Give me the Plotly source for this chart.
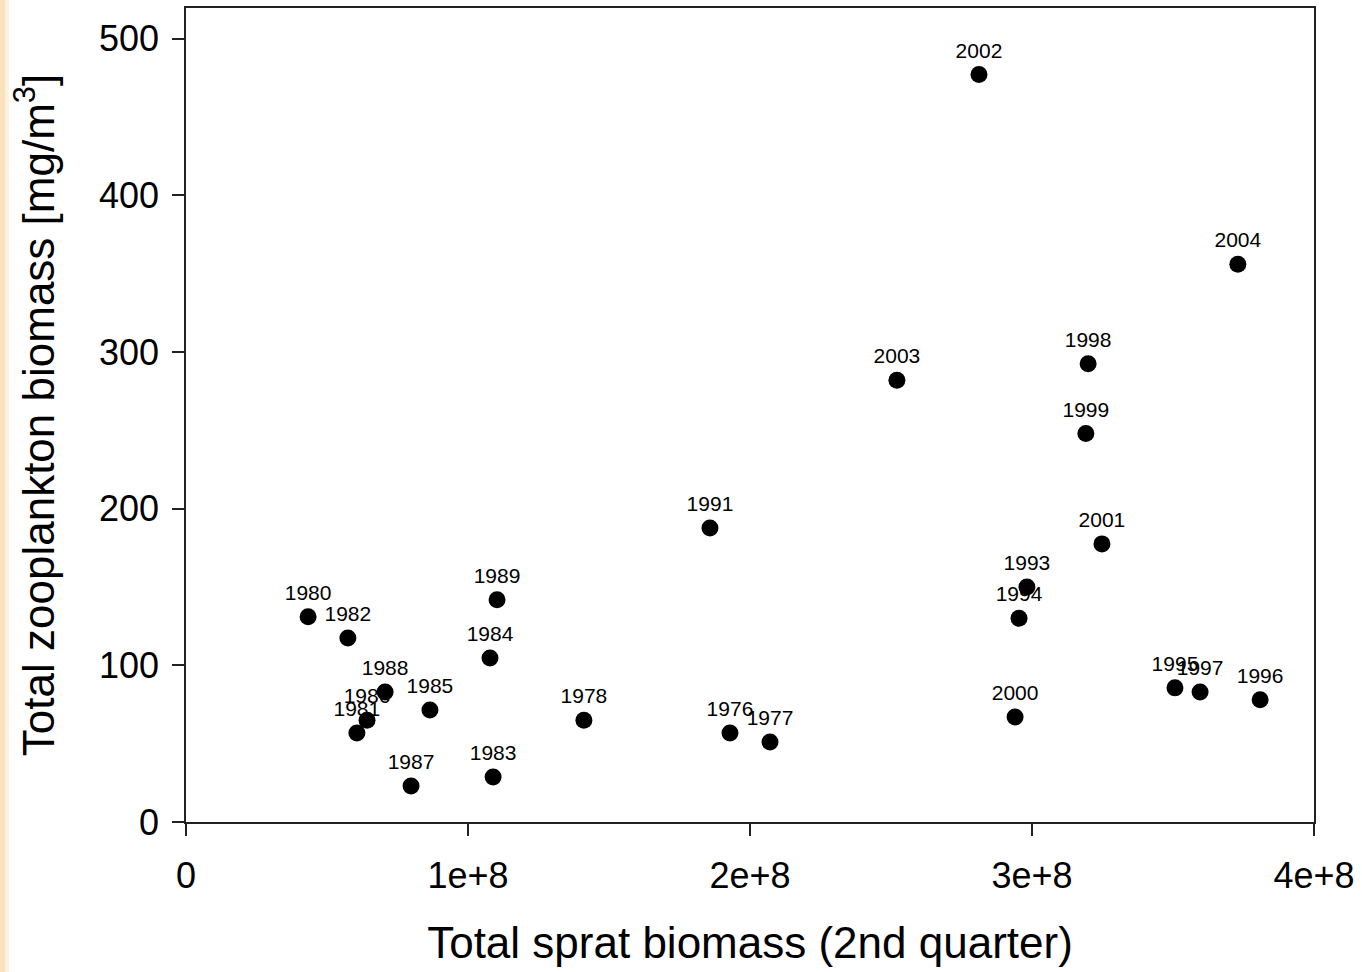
import plotly.graph_objects as go

# Sprat biomass (2nd quarter) vs. total zooplankton biomass, by year
years = ["2002", "2004", "1998", "2003", "1999", "1991", "2001", "1993", "1994",
         "1980", "1982", "1989", "1984", "1988", "1985", "1986", "1981", "1987",
         "1983", "1978", "1976", "1977", "2000", "1995", "1997", "1996"]
sprat_biomass = [2.812e8, 3.730e8, 3.199e8, 2.521e8, 3.191e8, 1.858e8, 3.248e8, 2.982e8, 2.954e8,
                 0.433e8, 0.574e8, 1.103e8, 1.078e8, 0.706e8, 0.865e8, 0.642e8, 0.606e8, 0.798e8,
                 1.089e8, 1.411e8, 1.929e8, 2.071e8, 2.940e8, 3.507e8, 3.596e8, 3.809e8]
zooplankton_biomass = [477, 356, 292.5, 282, 248, 187.7, 177.5, 150, 130,
                       131, 117.5, 141.8, 104.7, 83, 71.5, 65, 56.8, 23,
                       28.7, 65, 56.8, 51, 67, 85.6, 83, 78]

x_tickvals = [0, 1e8, 2e8, 3e8, 4e8]
x_ticktext = ["0", "1e+8", "2e+8", "3e+8", "4e+8"]
y_tickvals = [0, 100, 200, 300, 400, 500]

FONT = "Liberation Sans, Arial, sans-serif"
W, H = 1362, 972
ML, MR, MT, MB = 186, 48, 8, 150
PW, PH = W - ML - MR, H - MT - MB

fig = go.Figure()
fig.add_trace(go.Scatter(
    x=sprat_biomass, y=zooplankton_biomass, text=years,
    mode="markers+text", textposition="top center",
    textfont=dict(family=FONT, size=21, color="black"),
    marker=dict(size=17, color="black"),
    cliponaxis=False, showlegend=False,
))

axis_common = dict(
    showline=True, linecolor="#222", linewidth=1.5, mirror=True,
    ticks="outside", ticklen=12, tickwidth=1.5, tickcolor="#222",
    showgrid=False, zeroline=False,
    tickfont=dict(family=FONT, size=36, color="black"),
)

fig.update_xaxes(
    range=[0, 4e8], tickvals=x_tickvals, ticktext=x_ticktext,
    title=dict(text="Total sprat biomass (2nd quarter)",
               font=dict(family=FONT, size=44, color="black"), standoff=32),
    ticklabelstandoff=9,
    **axis_common,
)
fig.update_yaxes(
    range=[0, 519.5], tickvals=y_tickvals,
    title=dict(text="Total zooplankton biomass [mg/m<sup>3</sup>]",
               font=dict(family=FONT, size=44, color="black"), standoff=31),
    ticklabelstandoff=6,
    **axis_common,
)

# pale orange strip along the left edge of the page
fig.add_shape(type="rect", xref="paper", yref="paper",
              x0=-ML / PW, x1=(-ML + 5) / PW, y0=-MB / PH, y1=1 + MT / PH,
              fillcolor="#fbe2bd", line_width=0, layer="below")
fig.add_shape(type="rect", xref="paper", yref="paper",
              x0=(-ML + 5) / PW, x1=(-ML + 9) / PW, y0=-MB / PH, y1=1 + MT / PH,
              fillcolor="#fdf2e2", line_width=0, layer="below")

fig.update_layout(
    width=W, height=H,
    margin=dict(l=ML, r=MR, t=MT, b=MB, autoexpand=False),
    paper_bgcolor="white", plot_bgcolor="white",
    font=dict(family=FONT, color="black"),
)

fig.write_html("out.html")
